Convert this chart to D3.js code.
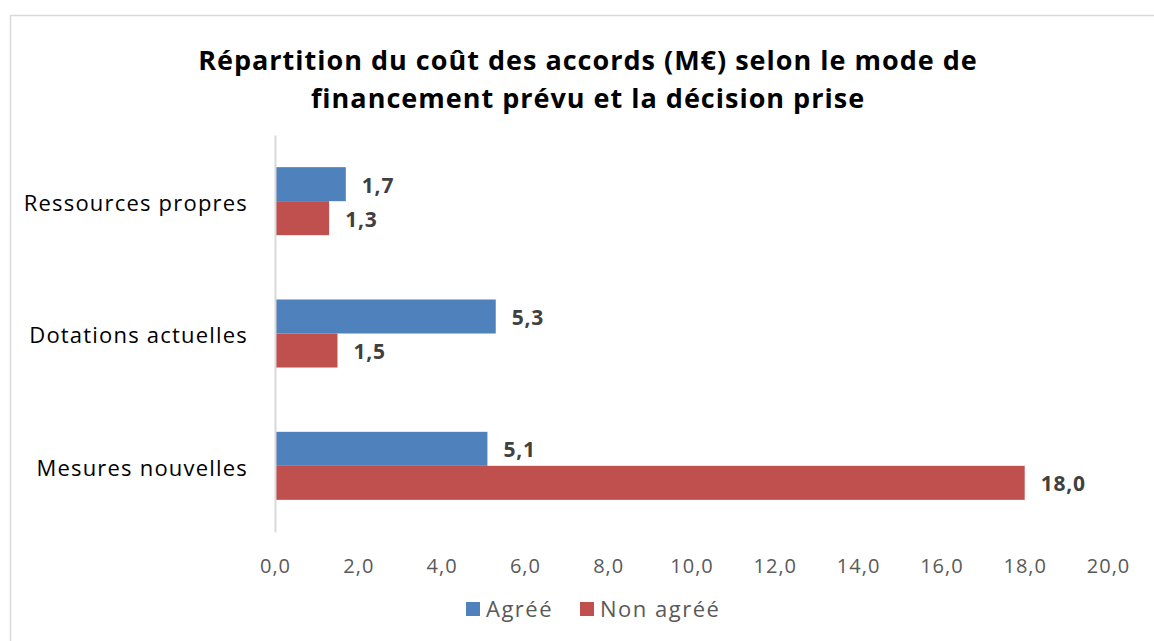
<!DOCTYPE html>
<html><head><meta charset="utf-8">
<script src="https://cdn.jsdelivr.net/npm/d3@7"></script>
<style>
html,body{margin:0;padding:0;background:#fff;}
svg{display:block;font-family:"Open Sans",sans-serif;}
</style></head>
<body>
<svg id="chart" width="1154" height="641"></svg>
<script>
const categories = ["Ressources propres", "Dotations actuelles", "Mesures nouvelles"];
const seriesNames = ["Agréé", "Non agréé"];
const agreeValues = [1.7, 5.3, 5.1];
const nonAgreeValues = [1.3, 1.5, 18.0];
const tickValues = [0, 2, 4, 6, 8, 10, 12, 14, 16, 18, 20];
const titleLines = ["Répartition du coût des accords (M€) selon le mode de", "financement prévu et la décision prise"];
const colors = ["#4F81BD", "#C0504D"];

const svg = d3.select("#chart");
const fmt = v => d3.format(".1f")(v).replace(".", ",");

// frame
svg.append("path").attr("d", "M10.5,641 L10.5,15.5 L1154,15.5")
  .attr("fill", "none").attr("stroke", "#d9d9d9").attr("stroke-width", 1.5);

// title
svg.append("text").attr("x", 588).attr("y", 70).attr("text-anchor", "middle")
  .attr("font-size", 27).attr("font-weight", "bold").attr("fill", "#000")
  .attr("letter-spacing", 1)
  .selectAll("tspan").data(titleLines).join("tspan")
  .attr("x", 588).attr("dy", (d, i) => i === 0 ? 0 : 38).text(d => d);

const x = d3.scaleLinear().domain([0, 20]).range([275, 1108]);
const y = d3.scaleBand().domain(categories).range([135, 532]).paddingInner(0.486).paddingOuter(0.243);
const ys = d3.scaleBand().domain(seriesNames).range([0, y.bandwidth()]);

const rows = categories.map((c, i) => ({cat: c, vals: [agreeValues[i], nonAgreeValues[i]]}));

const g = svg.append("g");
const groups = g.selectAll("g.cat").data(rows).join("g").attr("class", "cat")
  .attr("transform", d => `translate(0,${y(d.cat)})`);
groups.selectAll("rect").data(d => d.vals.map((v, j) => ({v, s: seriesNames[j], j})))
  .join("rect")
  .attr("x", x(0)).attr("y", d => ys(d.s)).attr("width", d => x(d.v) - x(0))
  .attr("height", ys.bandwidth()).attr("fill", d => colors[d.j]);
groups.selectAll("text").data(d => d.vals.map((v, j) => ({v, s: seriesNames[j], j})))
  .join("text")
  .attr("x", d => x(d.v) + 16).attr("y", d => ys(d.s) + ys.bandwidth() / 2 + 1)
  .attr("dy", "0.35em").attr("font-size", 21).attr("font-weight", "bold").attr("fill", "#404040")
  .attr("letter-spacing", 0.8)
  .text(d => fmt(d.v));

// value axis (labels only)
const xAxis = svg.append("g").attr("transform", "translate(0,532)")
  .call(d3.axisBottom(x).tickValues(tickValues).tickFormat(fmt).tickSize(0).tickPadding(27));
xAxis.select(".domain").remove();
xAxis.selectAll("text").attr("font-size", 20).attr("fill", "#595959")
  .attr("font-family", "Open Sans, sans-serif").attr("letter-spacing", 1);

// category axis
const yAxis = svg.append("g").attr("transform", "translate(275,0)")
  .call(d3.axisLeft(y).tickSize(0).tickPadding(27));
yAxis.select(".domain").attr("stroke", "#d9d9d9").attr("stroke-width", 2);
yAxis.selectAll("text").attr("font-size", 22).attr("fill", "#000")
  .attr("font-family", "Open Sans, sans-serif").attr("letter-spacing", 1.2).attr("dy", "0.45em");

// legend
const legend = svg.append("g").attr("transform", "translate(466,609)");
const items = [{name: seriesNames[0], x: 0}, {name: seriesNames[1], x: 114}];
items.forEach((it, i) => {
  legend.append("rect").attr("x", it.x).attr("y", -7).attr("width", 14).attr("height", 14).attr("fill", colors[i]);
  legend.append("text").attr("x", it.x + 20).attr("y", 0).attr("dy", "0.35em")
    .attr("font-size", 22).attr("fill", "#595959").attr("letter-spacing", 1.5).text(it.name);
});
</script>
</body></html>
